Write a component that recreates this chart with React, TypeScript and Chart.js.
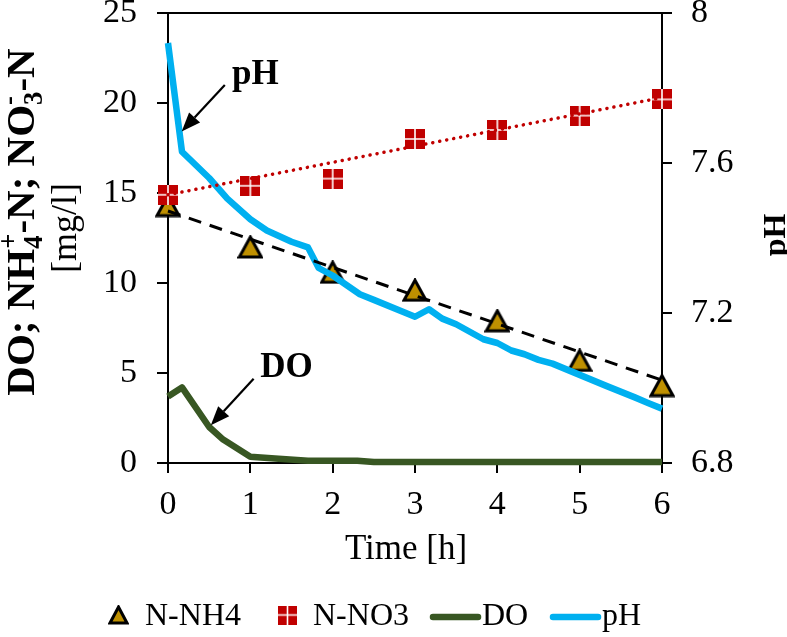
import React, { useEffect, useRef } from "react";
import { Chart, registerables } from "chart.js";

Chart.register(...registerables);

const FONT = "'Liberation Serif', 'Times New Roman', serif";

// ---- data ----
const sampleTimes = [0, 1, 2, 3, 4, 5, 6];
const nh4Values = [14.3, 12.0, 10.6, 9.6, 7.9, 5.7, 4.3];
const no3Values = [14.9, 15.4, 15.8, 18.0, 18.5, 19.3, 20.2];

const trendTimes = [0, 6];
const nh4Trend = [14.0, 4.6];
const no3Trend = [14.9, 20.3];

const doTimes = [0, 0.17, 0.5, 0.67, 1.0, 1.3, 1.7, 2.3, 2.5, 3, 4, 5, 6];
const doValues = [3.7, 4.2, 2.0, 1.3, 0.35, 0.25, 0.12, 0.12, 0.05, 0.05, 0.05, 0.05, 0.05];

const phTimes = [0, 0.17, 0.5, 0.72, 1.0, 1.2, 1.5, 1.7, 1.83, 2.0, 2.33, 2.5, 3.0, 3.17, 3.33, 3.5, 3.83, 4.0, 4.17, 4.33, 4.5, 4.67, 5.0, 5.33, 5.67, 5.83, 6.0];
const phValues = [7.92, 7.63, 7.56, 7.505, 7.45, 7.42, 7.39, 7.375, 7.32, 7.30, 7.25, 7.235, 7.19, 7.21, 7.185, 7.17, 7.13, 7.12, 7.10, 7.09, 7.075, 7.065, 7.035, 7.005, 6.975, 6.96, 6.945];

const rightTickLabels = ["6.8", "7.2", "7.6", "8"];
const legendLabels = ["N-NH4", "N-NO3", "DO", "pH"];
const xTitle = "Time [h]";
const rightTitle = "pH";

// annotation anchors in data units (x: hours, y: left axis)
const annotations = [
  { text: "pH", tx: 1.06, ty: 21.05, fromX: 0.69, fromY: 21.0, toX: 0.166, toY: 18.42 },
  { text: "DO", tx: 1.44, ty: 4.76, fromX: 1.04, fromY: 4.68, toX: 0.52, toY: 2.1 },
];

const COLORS = {
  nh4: "#BF9000",
  no3: "#C00000",
  doLine: "#385723",
  ph: "#00B0F0",
};

const pts = (xs: number[], ys: number[]) => xs.map((x, i) => ({ x, y: ys[i] }));

function makeTriangle(w: number, h: number, lw: number) {
  const c = document.createElement("canvas");
  c.width = w;
  c.height = h;
  const g = c.getContext("2d")!;
  const m = lw / 2 + 0.5;
  g.beginPath();
  g.moveTo(w / 2, m);
  g.lineTo(w - m, h - m);
  g.lineTo(m, h - m);
  g.closePath();
  g.fillStyle = COLORS.nh4;
  g.fill();
  g.lineWidth = lw;
  g.lineJoin = "miter";
  g.strokeStyle = "#000";
  g.stroke();
  return c;
}

function makeSquare(size: number) {
  const c = document.createElement("canvas");
  c.width = size;
  c.height = size;
  const g = c.getContext("2d")!;
  g.fillStyle = COLORS.no3;
  g.fillRect(0, 0, size, size);
  g.strokeStyle = "#fff";
  g.lineWidth = 1.6;
  g.beginPath();
  g.moveTo(size / 2, 0);
  g.lineTo(size / 2, size);
  g.moveTo(0, size / 2);
  g.lineTo(size, size / 2);
  g.stroke();
  return c;
}

type Seg = { t: string; mode?: "sub" | "sup" };

function drawRich(ctx: CanvasRenderingContext2D, segs: Seg[][], size: number, weight: string) {
  const small = size * 0.65;
  const fMain = `${weight} ${size}px ${FONT}`;
  const fSmall = `${weight} ${small}px ${FONT}`;
  const widthOf = (grp: Seg[]) =>
    Math.max(
      ...grp.map((s) => {
        ctx.font = s.mode ? fSmall : fMain;
        return ctx.measureText(s.t).width;
      })
    );
  const total = segs.reduce((a, g) => a + widthOf(g), 0);
  let x = -total / 2;
  ctx.textAlign = "left";
  ctx.textBaseline = "alphabetic";
  for (const grp of segs) {
    const w = widthOf(grp);
    for (const s of grp) {
      ctx.font = s.mode ? fSmall : fMain;
      let dy = 0;
      if (s.mode === "sub") dy = size * 0.2;
      if (s.mode === "sup") dy = -size * 0.42;
      ctx.fillText(s.t, x, dy);
    }
    x += w;
  }
}

function arrow(ctx: CanvasRenderingContext2D, x1: number, y1: number, x2: number, y2: number) {
  const ang = Math.atan2(y2 - y1, x2 - x1);
  const hl = 19;
  const hw = 7.5;
  const bx = x2 - hl * Math.cos(ang);
  const by = y2 - hl * Math.sin(ang);
  ctx.strokeStyle = "#000";
  ctx.lineWidth = 2.2;
  ctx.beginPath();
  ctx.moveTo(x1, y1);
  ctx.lineTo(bx, by);
  ctx.stroke();
  ctx.fillStyle = "#000";
  ctx.beginPath();
  ctx.moveTo(x2, y2);
  ctx.lineTo(bx + hw * Math.sin(ang), by - hw * Math.cos(ang));
  ctx.lineTo(bx - hw * Math.sin(ang), by + hw * Math.cos(ang));
  ctx.closePath();
  ctx.fill();
}

const decorPlugin = (legendTri: HTMLCanvasElement, legendSq: HTMLCanvasElement) => ({
  id: "decor",
  afterDraw(chart: any) {
    const ctx: CanvasRenderingContext2D = chart.ctx;
    const { left, right, top, bottom } = chart.chartArea;
    const xs = chart.scales.x;
    const ys = chart.scales.y;
    ctx.save();

    // top border
    ctx.strokeStyle = "#000";
    ctx.lineWidth = 2;
    ctx.beginPath();
    ctx.moveTo(left - 11, top);
    ctx.lineTo(right + 10, top);
    ctx.stroke();

    ctx.fillStyle = "#000";
    // left title
    ctx.save();
    ctx.translate(34, top + 209);
    ctx.rotate(-Math.PI / 2);
    drawRich(
      ctx,
      [
        [{ t: "DO; NH" }],
        [{ t: "4", mode: "sub" }, { t: "+", mode: "sup" }],
        [{ t: "-N; NO" }],
        [{ t: "3", mode: "sub" }, { t: "-", mode: "sup" }],
        [{ t: "-N" }],
      ],
      41,
      "bold"
    );
    ctx.restore();
    ctx.save();
    ctx.translate(76, top + 215);
    ctx.rotate(-Math.PI / 2);
    ctx.font = `36px ${FONT}`;
    ctx.textAlign = "center";
    ctx.textBaseline = "alphabetic";
    ctx.fillText("[mg/l]", 0, 0);
    ctx.restore();

    // right title
    ctx.save();
    ctx.translate(785, top + 222);
    ctx.rotate(-Math.PI / 2);
    ctx.font = `bold 32px ${FONT}`;
    ctx.textAlign = "center";
    ctx.textBaseline = "alphabetic";
    ctx.fillText(rightTitle, 0, 0);
    ctx.restore();

    // x title
    ctx.font = `35px ${FONT}`;
    ctx.textAlign = "center";
    ctx.textBaseline = "alphabetic";
    ctx.fillText(xTitle, (left + right) / 2 - 9, bottom + 96);

    // annotations
    for (const a of annotations) {
      ctx.font = `bold 35px ${FONT}`;
      ctx.textAlign = "center";
      ctx.fillStyle = "#000";
      ctx.fillText(a.text, xs.getPixelForValue(a.tx), ys.getPixelForValue(a.ty));
      arrow(
        ctx,
        xs.getPixelForValue(a.fromX),
        ys.getPixelForValue(a.fromY),
        xs.getPixelForValue(a.toX),
        ys.getPixelForValue(a.toY)
      );
    }

    // legend
    const ly = 615;
    const itemX = [108, 278, 430, 550];
    ctx.font = `32px ${FONT}`;
    ctx.textAlign = "left";
    ctx.fillStyle = "#000";
    ctx.drawImage(legendTri, itemX[0], ly - legendTri.height / 2);
    ctx.fillText(legendLabels[0], itemX[0] + 37, ly + 10);
    ctx.drawImage(legendSq, itemX[1], ly - legendSq.height / 2);
    ctx.fillText(legendLabels[1], itemX[1] + 35, ly + 10);
    const lineCols = [COLORS.doLine, COLORS.ph];
    [2, 3].forEach((k, j) => {
      ctx.strokeStyle = lineCols[j];
      ctx.lineWidth = 6.5;
      ctx.lineCap = "round";
      ctx.beginPath();
      ctx.moveTo(itemX[k] + 3, ly + 2);
      ctx.lineTo(itemX[k] + 48, ly + 2);
      ctx.stroke();
      ctx.fillStyle = "#000";
      ctx.fillText(legendLabels[k], itemX[k] + 52, ly + 10);
    });

    ctx.restore();
  },
});

export default function App() {
  const ref = useRef<HTMLCanvasElement | null>(null);
  useEffect(() => {
    document.body.style.margin = "0";
    document.body.style.overflow = "hidden";
    const canvas = ref.current!;
    const tri = makeTriangle(26, 24, 3);
    const sq = makeSquare(20);
    const legendTri = makeTriangle(21, 20, 3);
    const legendSq = makeSquare(19);

    const axisGrid = {
      display: true,
      drawOnChartArea: false,
      drawTicks: true,
      tickLength: 11,
      color: "#000",
      lineWidth: 2,
    };
    const tickFont = { family: FONT, size: 34 };

    const chart = new Chart(canvas, {
      type: "line",
      data: {
        datasets: [
          {
            label: "N-NH4 trend",
            data: pts(trendTimes, nh4Trend),
            yAxisID: "y",
            borderColor: "#000",
            borderWidth: 3,
            borderDash: [13, 9],
            pointRadius: 0,
            order: 0,
            clip: false,
          },
          {
            label: "N-NO3 trend",
            data: pts(trendTimes, no3Trend),
            yAxisID: "y",
            borderColor: COLORS.no3,
            borderWidth: 3.5,
            borderDash: [0.1, 7],
            borderCapStyle: "round",
            pointRadius: 0,
            order: 0,
            clip: false,
          },
          {
            label: "pH",
            data: pts(phTimes, phValues),
            yAxisID: "y2",
            borderColor: COLORS.ph,
            borderWidth: 6.5,
            borderJoinStyle: "round",
            pointRadius: 0,
            order: 1,
            clip: false,
          },
          {
            label: "DO",
            data: pts(doTimes, doValues),
            yAxisID: "y",
            borderColor: COLORS.doLine,
            borderWidth: 6.5,
            borderJoinStyle: "round",
            pointRadius: 0,
            order: 2,
            clip: false,
          },
          {
            label: "N-NO3",
            data: pts(sampleTimes, no3Values),
            yAxisID: "y",
            showLine: false,
            pointStyle: sq as any,
            pointRadius: 10,
            order: 3,
            clip: false,
          },
          {
            label: "N-NH4",
            data: pts(sampleTimes, nh4Values),
            yAxisID: "y",
            showLine: false,
            pointStyle: tri as any,
            pointRadius: 12,
            order: 4,
            clip: false,
          },
        ],
      },
      options: {
        responsive: false,
        animation: false,
        devicePixelRatio: 1,
        layout: { padding: { top: 11, left: 0, right: 0, bottom: 0 } },
        plugins: { legend: { display: false }, tooltip: { enabled: false } },
        events: [],
        scales: {
          x: {
            type: "linear",
            min: 0,
            max: 6,
            ticks: { stepSize: 1, font: tickFont, color: "#000", padding: 12 },
            grid: { ...axisGrid, tickLength: 10 },
            border: { display: true, color: "#000", width: 2 },
            afterFit: (s: any) => {
              s.height = 174;
              s.paddingLeft = 0;
              s.paddingRight = 0;
            },
          },
          y: {
            type: "linear",
            position: "left",
            min: 0,
            max: 25,
            ticks: { stepSize: 5, font: tickFont, color: "#000", padding: 20 },
            grid: axisGrid,
            border: { display: true, color: "#000", width: 2 },
            afterFit: (s: any) => {
              s.width = 168;
              s.paddingTop = 0;
              s.paddingBottom = 0;
            },
          },
          y2: {
            type: "linear",
            position: "right",
            min: 6.8,
            max: 8.0,
            ticks: {
              stepSize: 0.4,
              font: tickFont,
              color: "#000",
              padding: 19,
              callback: (_v: any, i: number) => rightTickLabels[i],
            },
            grid: { ...axisGrid, tickLength: 10 },
            border: { display: true, color: "#000", width: 2 },
            afterFit: (s: any) => {
              s.width = 125;
              s.paddingTop = 0;
              s.paddingBottom = 0;
            },
          },
        },
      } as any,
      plugins: [decorPlugin(legendTri, legendSq)],
    });
    return () => chart.destroy();
  }, []);

  return (
    <div style={{ width: 787, height: 637 }}>
      <canvas ref={ref} width={787} height={637} style={{ display: "block" }} />
    </div>
  );
}
